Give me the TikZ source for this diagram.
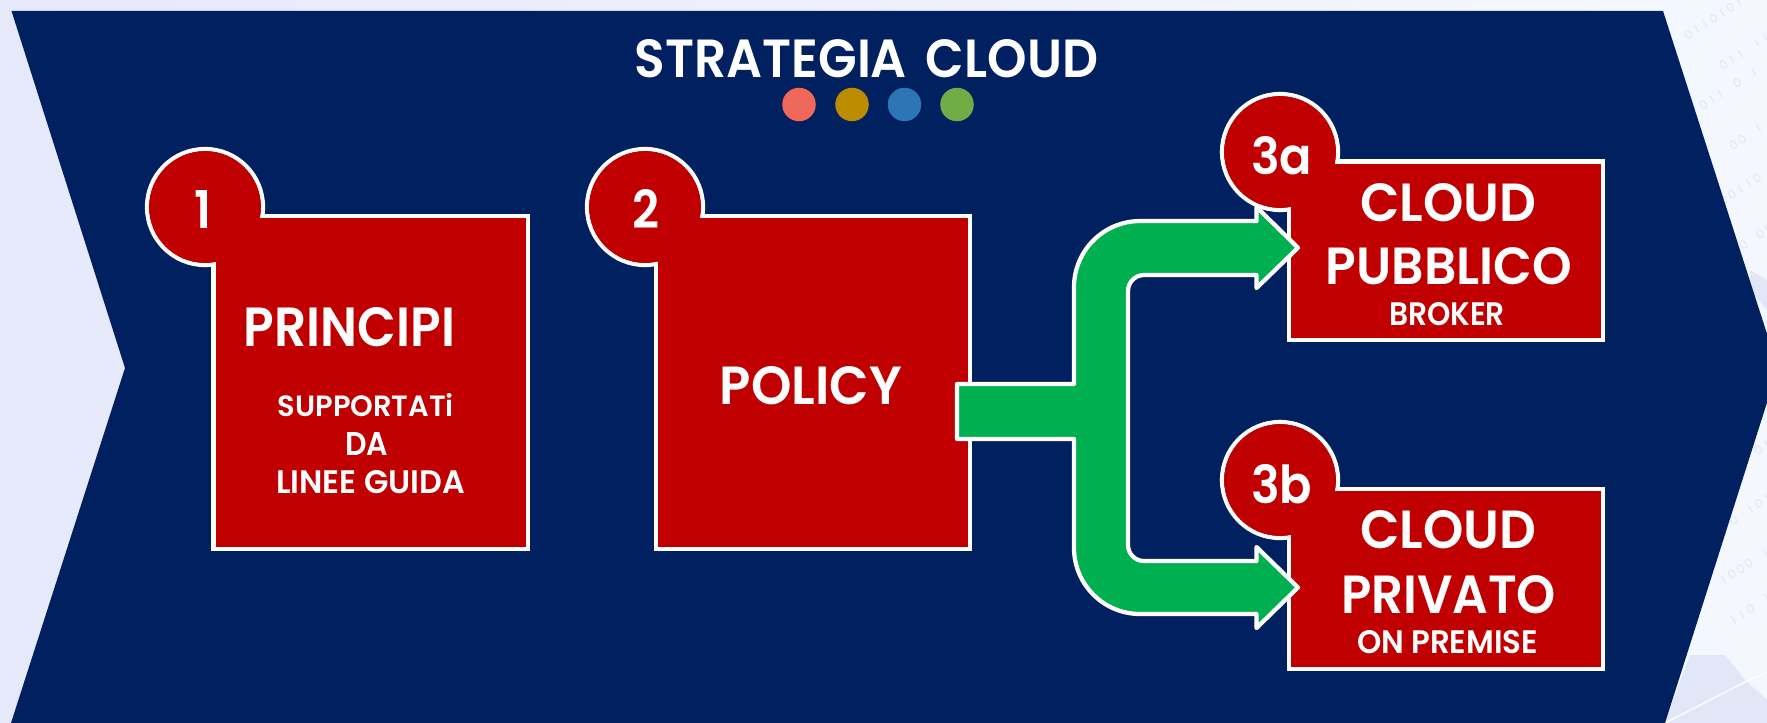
\documentclass[tikz,border=0pt]{standalone}
\usepackage{fontspec}
\usepackage{graphicx}
\setmainfont{Poppins}[BoldFont={Poppins SemiBold}]
\usetikzlibrary{calc}
\definecolor{bannerblue}{HTML}{002060}
\definecolor{boxred}{HTML}{C00000}
\definecolor{arrowgreen}{HTML}{00B050}
\definecolor{bgleft}{HTML}{E6E9FA}
\definecolor{bgright}{HTML}{F4F8FE}
\definecolor{bgshape}{HTML}{E1E7F6}
\definecolor{digitgrey}{HTML}{E4E9F5}
\definecolor{dotone}{HTML}{F0685A}
\definecolor{dottwo}{HTML}{BC8C00}
\definecolor{dotthree}{HTML}{2E75B6}
\definecolor{dotfour}{HTML}{70AD47}
\newdimen\pxu \pxu=0.02cm
\tikzset{
  x=0.02cm,y=-0.02cm,
  panel/.style={draw=white,fill=boxred,line width=2.4pt,rectangle,inner sep=0pt,outer sep=0pt},
  badge/.style={draw=white,fill=boxred,line width=2.4pt,circle,inner sep=0pt,outer sep=0pt,minimum size=116*\pxu},
  lbl/.style={text=white,font=\bfseries,inner sep=0pt,outer sep=0pt,anchor=base},
  colordot/.style={circle,fill=#1,draw=none,inner sep=0pt,outer sep=0pt,minimum size=33.5*\pxu},
  branch/.style={draw=white,fill=arrowgreen,line width=2.4pt,line join=round},
}
% name, box centre x,y, width, height, badge centre x,y
\newcommand{\paneled}[7]{%
  \node[panel,minimum width=#4*\pxu,minimum height=#5*\pxu] (#1) at (#2,#3) {};
  \node[badge] (c#1) at (#6,#7) {};
  \fill[boxred] ($(#1.south west)+(2.1,-2.1)$) rectangle ($(#1.north east)+(-2.1,2.1)$);
  \fill[boxred] (c#1.center) circle[radius=55.9*\pxu];
}
% name, centre x, baseline y, width, height, text
\newcommand{\lab}[6]{%
  \node[lbl] (#1) at (#2,#3) {\resizebox{#4\pxu}{#5\pxu}{#6}};
}
\begin{document}
\begin{tikzpicture}
\useasboundingbox (0,0) rectangle (1767,723);
\begin{scope}
\clip (0,0) rectangle (1767,723);
\shade[left color=bgleft,right color=bgright] (0,0) rectangle (1767,723);
% faint background picture on the right
\fill[bgshape] (1665,723) -- (1690,655) -- (1725,655) -- (1745,680) -- (1767,700) -- (1767,723) -- cycle;
\fill[bgshape] (1750,270) -- (1767,280) -- (1767,310) -- (1750,290) -- cycle;
\draw[white,line width=0.8pt] (1665,723) -- (1745,682) -- (1767,672);
% texture of the background picture: small rings and ticks along slanted rows
\foreach \px/\py/\pat in {
  1680/40/{0,1,1,0,1,0,1},1715/70/{0,1,1,2,1,1,0},1695/110/{0,1,1,2,0,2,1},
  1725/150/{0,0,2,1,2,0,1},1715/205/{0,0,1,1,0,2,0},1735/250/{0,2,0,0,1,0},
  1750/455/{0,1,2,0,1},1725/525/{0,2,1,0,1,1,2,0},1715/585/{1,0,0,0,2,1,0,0},
  1725/625/{1,1,0,2,1,1,0,1}}
{
  \begin{scope}[shift={(\px,\py)},rotate=33]
    \foreach \c [count=\k] in \pat {
      \ifnum\c=0 \draw[digitgrey,line width=0.7pt] (\k*10,0) circle[x radius=2.8,y radius=4.2];\fi
      \ifnum\c=1 \draw[digitgrey,line width=0.8pt] (\k*10,-4) -- (\k*10,4);\fi
    }
  \end{scope}
}
% banner
\fill[bannerblue] (11.5,11) -- (1663,11) -- (1778,368) -- (1665,723) -- (11,723) -- (125,368) -- cycle;
\end{scope}

% title
\lab{title}{866.5}{77}{463}{38}{STRATEGIA\hspace{0.14em} CLOUD}
\node[colordot=dotone] (dota) at (799,104.5) {};
\node[colordot=dottwo] (dotb) at (852,104.5) {};
\node[colordot=dotthree] (dotc) at (904.5,104.5) {};
\node[colordot=dotfour] (dotd) at (957,104.5) {};

% panels with badges
\paneled{boxone}{370.75}{382.5}{314.5}{333}{205}{207}
\paneled{boxtwo}{813}{382.5}{314}{333}{645}{207}
\paneled{boxa}{1445.6}{250.75}{314}{178.5}{1280}{152}
\paneled{boxb}{1445.6}{579}{314}{180}{1280}{480}

% green branching arrow
\coordinate (stub) at ($(boxtwo.east)+(-13,29)$);
\coordinate (tipA) at ($(boxa.west)+(9.4,-3)$);
\coordinate (tipB) at ($(boxb.west)+(9.4,8.5)$);
\draw[branch]
  ($(stub)+(0,-27.5)$) -- ($(stub)+(117,-27.5)$)
  -- ($(tipA)+(-224,39.3)$)
  .. controls ($(tipA)+(-224,2.9)$) and ($(tipA)+(-194.4,-26.7)$) .. ($(tipA)+(-158,-26.7)$)
  -- ($(tipA)+(-41.5,-26.7)$) -- ($(tipA)+(-41.5,-40.7)$) -- (tipA)
  -- ($(tipA)+(-41.5,40.3)$) -- ($(tipA)+(-41.5,27.3)$)
  -- ($(tipA)+(-154,27.3)$)
  .. controls ($(tipA)+(-162.8,27.3)$) and ($(tipA)+(-170,34.5)$) .. ($(tipA)+(-170,43.3)$)
  -- ($(tipB)+(-170,-42.5)$)
  .. controls ($(tipB)+(-170,-33.7)$) and ($(tipB)+(-162.8,-26.5)$) .. ($(tipB)+(-154,-26.5)$)
  -- ($(tipB)+(-41.5,-26.5)$) -- ($(tipB)+(-41.5,-40.5)$) -- (tipB)
  -- ($(tipB)+(-41.5,40.5)$) -- ($(tipB)+(-41.5,26.5)$)
  -- ($(tipB)+(-158,26.5)$)
  .. controls ($(tipB)+(-194.4,26.5)$) and ($(tipB)+(-224,-3.1)$) .. ($(tipB)+(-224,-39.5)$)
  -- ($(stub)+(117,27.5)$) -- ($(stub)+(0,27.5)$) -- cycle;

% numbers
\lab{numone}{203.5}{228}{17}{38}{1}
\lab{numtwo}{645.5}{228.5}{27}{39}{2}
\lab{numa}{1281.5}{174}{61}{38}{3a}
\lab{numb}{1281.5}{503}{61}{39}{3b}

% panel texts
\lab{tprin}{349.5}{346}{211}{39}{PRINCIPI}
\lab{tsup}{366}{416}{176}{23}{SUPPORTATi}
\lab{tda}{366.5}{455}{43}{23}{DA}
\lab{tlin}{370.5}{493}{189}{23}{LINEE GUIDA}
\lab{tpol}{811}{404}{182}{38}{POLICY}
\lab{tca}{1448}{221}{176}{38}{CLOUD}
\lab{tpub}{1449}{284}{246}{37}{PUBBLICO}
\lab{tbro}{1447}{325}{116}{23}{BROKER}
\lab{tcb}{1448}{548}{176}{38}{CLOUD}
\lab{tpri}{1448.5}{613}{215}{38}{PRIVATO}
\lab{tonp}{1447.5}{653}{181}{23}{ON PREMISE}
\end{tikzpicture}
\end{document}
